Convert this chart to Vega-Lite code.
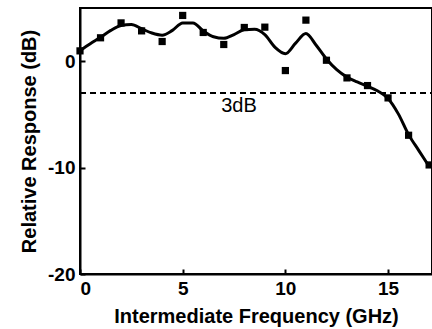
{
  "$schema": "https://vega.github.io/schema/vega-lite/v6.json",
  "width": 352,
  "height": 266,
  "autosize": "none",
  "padding": {"left": 80, "top": 8, "right": 0, "bottom": 55},
  "background": "white",
  "config": {
    "view": {"stroke": "black", "strokeWidth": 2},
    "font": "Liberation Sans",
    "axis": {
      "grid": false,
      "domainColor": "black",
      "domainWidth": 2,
      "tickColor": "black",
      "tickWidth": 2,
      "tickSize": -5,
      "labelFont": "Liberation Sans",
      "labelFontWeight": "bold",
      "labelFontSize": 19,
      "labelColor": "black",
      "labelExpr": "replace(datum.label, '\u2212', '-')",
      "titleFont": "Liberation Sans",
      "titleFontWeight": "bold",
      "titleFontSize": 20,
      "titleColor": "black"
    }
  },
  "datasets": {
    "fit": [
      {"f": 0, "r": 1.0}, {"f": 0.5, "r": 1.65}, {"f": 1, "r": 2.25}, {"f": 1.5, "r": 2.9},
      {"f": 2, "r": 3.35}, {"f": 2.5, "r": 3.45}, {"f": 3, "r": 3.05}, {"f": 3.5, "r": 2.65},
      {"f": 4, "r": 2.45}, {"f": 4.5, "r": 2.9}, {"f": 5, "r": 3.6}, {"f": 5.5, "r": 3.6},
      {"f": 6, "r": 2.85}, {"f": 6.5, "r": 2.3}, {"f": 7, "r": 2.15}, {"f": 7.5, "r": 2.5},
      {"f": 8, "r": 2.95}, {"f": 8.5, "r": 3.0}, {"f": 9, "r": 2.5}, {"f": 9.5, "r": 1.3},
      {"f": 10, "r": 0.7}, {"f": 10.5, "r": 1.7}, {"f": 11, "r": 2.6}, {"f": 11.5, "r": 1.5},
      {"f": 12, "r": 0.2}, {"f": 12.5, "r": -0.8}, {"f": 13, "r": -1.5}, {"f": 13.5, "r": -1.95},
      {"f": 14, "r": -2.35}, {"f": 14.5, "r": -2.8}, {"f": 15, "r": -3.5}, {"f": 15.5, "r": -4.95},
      {"f": 16, "r": -6.9}, {"f": 16.5, "r": -8.4}, {"f": 17, "r": -9.9}
    ],
    "meas": [
      {"f": 0, "r": 0.97}, {"f": 1, "r": 2.2}, {"f": 2, "r": 3.6}, {"f": 3, "r": 2.85},
      {"f": 4, "r": 1.85}, {"f": 5, "r": 4.3}, {"f": 6, "r": 2.7}, {"f": 7, "r": 1.57},
      {"f": 8, "r": 3.17}, {"f": 9, "r": 3.2}, {"f": 10, "r": -0.88}, {"f": 11, "r": 3.86},
      {"f": 12, "r": 0.09}, {"f": 13, "r": -1.57}, {"f": 14, "r": -2.29}, {"f": 15, "r": -3.45},
      {"f": 16, "r": -6.96}, {"f": 17, "r": -9.75}
    ],
    "lab": [{"f": 7.74, "r": -4.25, "t": "3dB"}],
    "ref": [{"r": -3}]
  },
  "encoding": {
    "x": {"field": "f", "type": "quantitative",
      "scale": {"domain": [0, 17.14], "nice": false, "zero": false},
      "axis": {"values": [0, 5, 10, 15], "title": "Intermediate Frequency (GHz)", "labelPadding": 10, "titlePadding": 8}},
    "y": {"field": "r", "type": "quantitative",
      "scale": {"domain": [-20, 5], "nice": false, "zero": false},
      "axis": {"values": [-20, -10, 0], "title": "Relative Response (dB)", "labelPadding": 10, "titlePadding": 8}}
  },
  "layer": [
    {
      "data": {"name": "ref"},
      "mark": {"type": "rule", "color": "black", "strokeWidth": 2, "strokeDash": [6, 4]},
      "encoding": {"x": {"value": 0}, "x2": {"value": 352}}
    },
    {
      "data": {"name": "fit"},
      "mark": {"type": "line", "color": "black", "strokeWidth": 3, "interpolate": "monotone"}
    },
    {
      "data": {"name": "meas"},
      "mark": {"type": "point", "shape": "square", "filled": true, "color": "black", "opacity": 1, "size": 52}
    },
    {
      "data": {"name": "lab"},
      "mark": {"type": "text", "font": "Liberation Sans", "fontSize": 20, "color": "black", "baseline": "middle", "align": "center"},
      "encoding": {"text": {"field": "t"}}
    }
  ]
}
